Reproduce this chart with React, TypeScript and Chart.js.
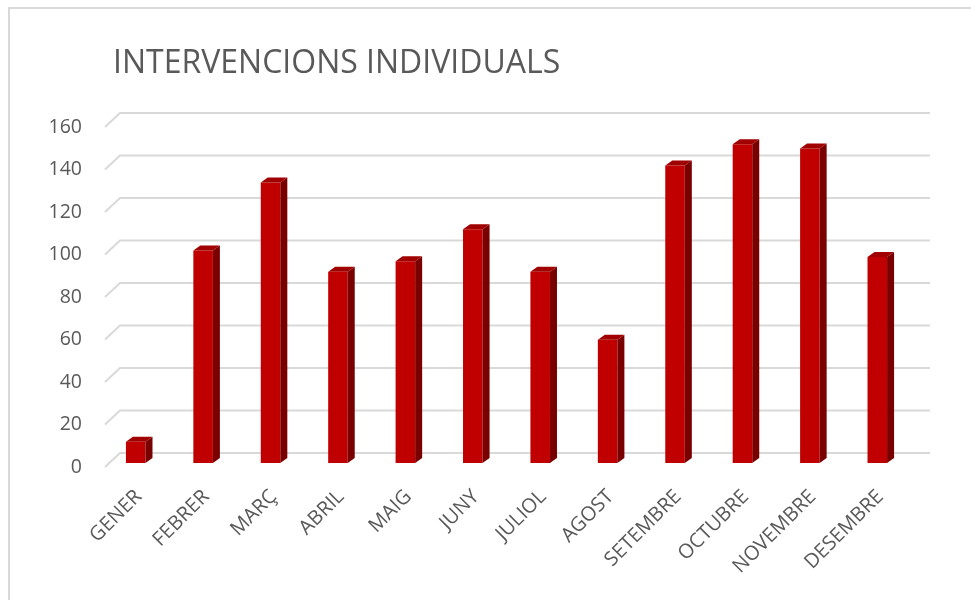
import React, { useEffect, useRef } from "react";
import { Chart, registerables } from "chart.js";

Chart.register(...registerables);

const title = "INTERVENCIONS INDIVIDUALS";
const months = ["GENER", "FEBRER", "MARÇ", "ABRIL", "MAIG", "JUNY", "JULIOL", "AGOST", "SETEMBRE", "OCTUBRE", "NOVEMBRE", "DESEMBRE"];
const values = [10, 100, 132, 90, 95, 110, 90, 58, 140, 150, 148, 97];
const yTicks = [0, 20, 40, 60, 80, 100, 120, 140, 160];

const FRONT = "#c00000";
const SIDE = "#7a0000";
const TOP = "#a00000";
const GRID = "#d9d9d9";
const TEXT = "#595959";
const DX = 7;
const DY = 5;
const BACK_DX = 15;
const BACK_DY = 10;

const wallPlugin = {
  id: "wall",
  beforeDatasetsDraw(chart: any) {
    const { ctx, chartArea, scales } = chart;
    const y = scales.y;
    ctx.save();
    ctx.strokeStyle = GRID;
    ctx.lineWidth = 2;
    for (const v of yTicks) {
      const py = y.getPixelForValue(v);
      ctx.beginPath();
      ctx.moveTo(chartArea.left + 3, py + 4);
      ctx.lineTo(chartArea.left + 3 + BACK_DX, py + 4 - BACK_DY - 4);
      ctx.lineTo(chartArea.right + 19, py + 4 - BACK_DY - 4);
      ctx.stroke();
    }
    ctx.restore();
  },
  afterDatasetsDraw(chart: any) {
    const { ctx } = chart;
    const meta = chart.getDatasetMeta(0);
    ctx.save();
    meta.data.forEach((bar: any) => {
      const { x, y, base, width } = bar.getProps(["x", "y", "base", "width"], true);
      const l = x - width / 2;
      const r = x + width / 2;
      ctx.fillStyle = SIDE;
      ctx.beginPath();
      ctx.moveTo(r, y);
      ctx.lineTo(r + DX, y - DY);
      ctx.lineTo(r + DX, base - DY);
      ctx.lineTo(r, base);
      ctx.closePath();
      ctx.fill();
      ctx.fillStyle = TOP;
      ctx.beginPath();
      ctx.moveTo(l, y);
      ctx.lineTo(l + DX, y - DY);
      ctx.lineTo(r + DX, y - DY);
      ctx.lineTo(r, y);
      ctx.closePath();
      ctx.fill();
    });
    ctx.restore();
  },
};

export default function App() {
  const ref = useRef<HTMLCanvasElement | null>(null);
  useEffect(() => {
    if (!ref.current) return;
    const chart = new Chart(ref.current, {
      type: "bar",
      data: {
        labels: months,
        datasets: [
          {
            data: values,
            backgroundColor: FRONT,
            borderWidth: 0,
            categoryPercentage: 1,
            barPercentage: 0.29,
          },
        ],
      },
      options: {
        animation: false,
        responsive: false,
        maintainAspectRatio: false,
        layout: { padding: { top: 123, right: 60, left: 0, bottom: 0 } },
        plugins: { legend: { display: false }, tooltip: { enabled: false }, title: { display: false } },
        scales: {
          x: {
            grid: { display: false },
            border: { display: false },
            ticks: {
              color: TEXT,
              font: { family: "Open Sans", size: 20 },
              maxRotation: 45,
              minRotation: 45,
              padding: 14,
              labelOffset: 3,
              autoSkip: false,
            },
            afterFit: (s: any) => {
              s.height = 137;
            },
          },
          y: {
            min: 0,
            max: 160,
            grid: { display: false },
            border: { display: false },
            ticks: {
              stepSize: 20,
              color: TEXT,
              font: { family: "Open Sans", size: 19.5 },
              padding: 12,
              labelOffset: 4,
            },
            afterFit: (s: any) => {
              s.width = 102;
            },
          },
        },
      },
      plugins: [wallPlugin],
    });
    return () => chart.destroy();
  }, []);
  return (
    <div style={{ position: "absolute", left: 0, top: 0, width: 971, height: 600, overflow: "hidden", background: "#fff" }}>
      <div style={{ position: "absolute", left: 8, top: 7, width: 1000, height: 700, border: "2px solid #d9d9d9", boxSizing: "border-box" }} />
      <canvas ref={ref} width={971} height={600} style={{ position: "absolute", left: 0, top: 0 }} />
      <div style={{ position: "absolute", left: 113, top: 38, fontFamily: "Open Sans", fontSize: 32, color: TEXT, whiteSpace: "nowrap", lineHeight: "46px" }}>
        {title}
      </div>
    </div>
  );
}
